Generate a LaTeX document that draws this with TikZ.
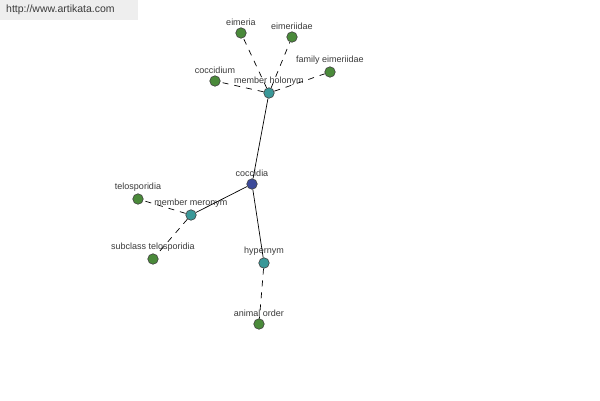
\documentclass[tikz,border=0pt]{standalone}
\usepackage{fontspec}
\setmainfont{Liberation Sans}
\usepackage{xcolor}
\usepackage{tikz}
\usetikzlibrary{positioning}
\definecolor{cRoot}{HTML}{3C4A9A}
\definecolor{cRel}{HTML}{3A9898}
\definecolor{cLeaf}{HTML}{4A8A3A}
\definecolor{cTxt}{HTML}{3A3A3A}
\definecolor{cMark}{HTML}{EEEEEE}
\begin{document}
\begin{tikzpicture}[x=1pt,y=-1pt,font=\fontsize{9}{10}\selectfont,
  dot/.style={circle,draw=black!75,line width=0.6pt,minimum size=10.5pt,inner sep=0pt,
    label={[cTxt,inner sep=1pt,yshift=0.5pt]above:#1}},
  root/.style={dot=#1,fill=cRoot},
  rel/.style={dot=#1,fill=cRel},
  leaf/.style={dot=#1,fill=cLeaf},
  solidln/.style={draw=black,line width=0.7pt},
  dashln/.style={draw=black,line width=0.7pt,dash pattern=on 6pt off 6pt}]
  \useasboundingbox[fill=white] (0,0) rectangle (600,400);
  % watermark
  \fill[cMark] (0,0) rectangle (138,20);
  \node[text=cTxt,font=\fontsize{10.5}{12}\selectfont,anchor=west,inner sep=0pt] (site) at (6,10) {http://www.artikata.com};
  % centre and relation nodes
  \node[root=coccidia] (coccidia) at (252,184) {};
  \node[rel=member holonym] (holo) at (269,93) {};
  \node[rel=member meronym] (mero) at (191,215) {};
  \node[rel=hypernym] (hyper) at (264,263) {};
  % leaves
  \node[leaf=eimeria] (eimeria) at (241,33) {};
  \node[leaf=eimeriidae] (eimeriidae) at (292,37) {};
  \node[leaf=family eimeriidae] (fam) at (330,72) {};
  \node[leaf=coccidium] (coccidium) at (215,81) {};
  \node[leaf=telosporidia] (telo) at (138,199) {};
  \node[leaf=subclass telosporidia] (subtelo) at (153,259) {};
  \node[leaf=animal order] (animal) at (259,324) {};
  % solid links
  \draw[solidln] (coccidia) -- (holo);
  \draw[solidln] (coccidia) -- (mero);
  \draw[solidln] (coccidia) -- (hyper);
  % dashed links
  \foreach \n in {eimeria,eimeriidae,fam,coccidium}
    \draw[dashln] (holo) -- (\n);
  \draw[dashln] (mero) -- (telo);
  \draw[dashln] (mero) -- (subtelo);
  \draw[dashln] (hyper) -- (animal);
\end{tikzpicture}
\end{document}
